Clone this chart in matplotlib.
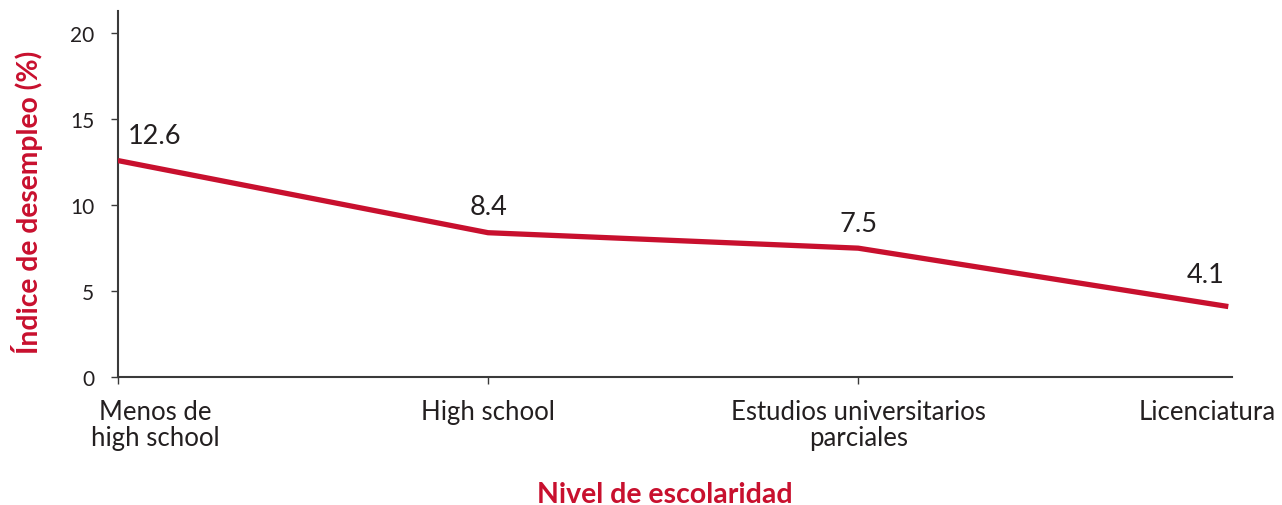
import matplotlib
matplotlib.use('Agg')
import matplotlib.pyplot as plt

# data
niveles = ['Menos de\nhigh school', 'High school', 'Estudios universitarios\nparciales', 'Licenciatura']
desempleo = [12.6, 8.4, 7.5, 4.1]
etiquetas = ['12.6', '8.4', '7.5', '4.1']
yticks = [0, 5, 10, 15, 20]

rojo = '#C8102E'
gris = '#231F20'

plt.rcParams['font.family'] = ['Lato', 'DejaVu Sans']

fig = plt.figure(figsize=(12.82, 5.06), dpi=100)
ax = fig.add_axes([0.092, 0.253, 0.869, 0.723])

x = list(range(len(niveles)))
ax.plot(x, desempleo, color=rojo, lw=3.8, solid_capstyle='butt', zorder=3)

# value labels (offsets in points)
offsets = [(26, 9), (0, 10), (0, 9), (-16, 14)]
for xi, yi, txt, off in zip(x, desempleo, etiquetas, offsets):
    ax.annotate(txt, (xi, yi), xytext=off, textcoords='offset points',
                ha='center', va='bottom', fontsize=19.5, color=gris)

ax.set_xlim(0, 3.01)
ax.set_ylim(0, 21.3)
ax.set_xticks(x)
ax.set_xticklabels([''] * len(x))
ax.set_yticks(yticks)
ax.set_yticklabels([str(v) for v in yticks], fontsize=15, color=gris)

# category labels; first and last are pulled inward like the original
cat_dx = [27, 0, 0, -15]
for xi, lab, dx in zip(x, niveles, cat_dx):
    ax.annotate(lab, (xi, 0), xytext=(dx, -16), textcoords='offset points',
                ha='center', va='top', fontsize=18.5, color=gris,
                linespacing=1.05, annotation_clip=False)
ax.xaxis.get_major_ticks()[-1].tick1line.set_visible(False)

for s in ['top', 'right']:
    ax.spines[s].set_visible(False)
for s in ['left', 'bottom']:
    ax.spines[s].set_color('#3a3a3a')
    ax.spines[s].set_linewidth(1.5)
ax.tick_params(axis='both', direction='out', length=5, width=1, color='#3a3a3a')
ax.tick_params(axis='y', pad=12)

ax.set_ylabel('Índice de desempleo (%)', color=rojo, fontsize=20.3, fontweight='bold')
ax.set_xlabel('Nivel de escolaridad', color=rojo, fontsize=20.5, fontweight='bold')
ax.yaxis.set_label_coords(-0.067, 0.48)
ax.xaxis.set_label_coords(0.491, -0.285)

fig.savefig('out.png', dpi=100)
